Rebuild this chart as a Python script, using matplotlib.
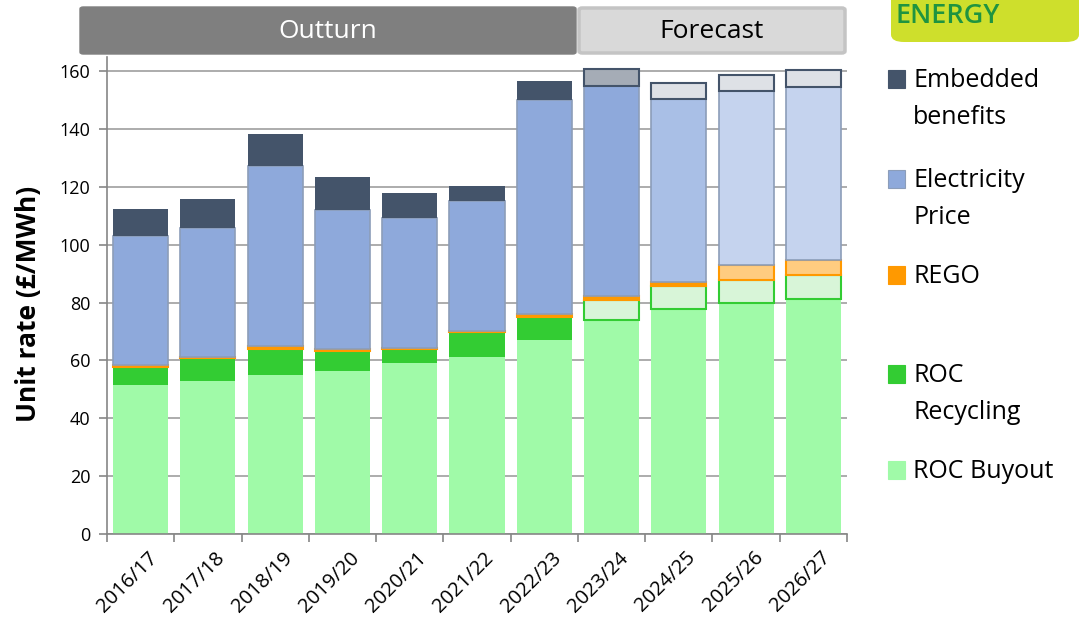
import matplotlib.pyplot as plt
import matplotlib.transforms as mtransforms
import numpy as np
from matplotlib.patches import FancyBboxPatch, Rectangle

years = ['2016/17', '2017/18', '2018/19', '2019/20', '2020/21', '2021/22',
         '2022/23', '2023/24', '2024/25', '2025/26', '2026/27']
roc_buyout = [51.6, 53.0, 55.0, 56.4, 59.2, 61.3, 67.0, 74.1, 77.8, 79.9, 81.3]
roc_recycling = [6.2, 7.9, 9.0, 6.9, 4.8, 8.7, 7.9, 6.7, 7.8, 8.1, 8.4]
rego = [0.7, 0.4, 0.9, 0.8, 0.3, 0.3, 1.3, 1.4, 1.4, 5.0, 5.0]
elec_price = [44.7, 44.4, 62.5, 47.8, 45.1, 44.7, 73.8, 72.7, 63.5, 60.1, 60.0]
embedded = [9.3, 10.0, 10.8, 11.4, 8.6, 5.5, 6.5, 6.0, 5.6, 5.5, 5.8]

legend_names = ['Embedded\nbenefits', 'Electricity\nPrice', 'REGO', 'ROC\nRecycling', 'ROC Buyout']

# per-bar styling: outturn years solid, forecast years lighter with outlines
buyout_fc = ['#A0FAA8'] * 11
rec_fc = ['#33CC33'] * 7 + ['#D8F5D8'] * 4
rec_ec = ['none'] * 7 + ['#33CC33'] * 4
rego_fc = ['#FF9900'] * 9 + ['#FFCC80'] * 2
elec_fc = ['#8EA9DB'] * 8 + ['#A9BFE6'] + ['#C5D3EE'] * 2
emb_fc = ['#44546A'] * 7 + ['#A5ACB6'] + ['#DEE1E6'] * 3
emb_ec = ['none'] * 7 + ['#44546A'] * 4

plt.rcParams['font.family'] = ['Open Sans', 'DejaVu Sans']

fig = plt.figure(figsize=(10.89, 6.18), dpi=100)
ax = fig.add_axes([107 / 1089, 0.136, 740 / 1089, 0.772])

x = np.arange(len(years))
w = 0.818
bottom = np.zeros(len(years))

ax.bar(x, roc_buyout, w, bottom=bottom, color=buyout_fc, edgecolor='none', zorder=2)
bottom += roc_buyout
ax.bar(x, roc_recycling, w, bottom=bottom, color=rec_fc, edgecolor=rec_ec, linewidth=1.5, zorder=2)
bottom += roc_recycling
ax.bar(x, rego, w, bottom=bottom, color=rego_fc, edgecolor='#FF9900', linewidth=1.5, zorder=2)
bottom += rego
ax.bar(x, elec_price, w, bottom=bottom, color=elec_fc, edgecolor='#8C9DB9', linewidth=1.2, zorder=2)
bottom += elec_price
ax.bar(x, embedded, w, bottom=bottom, color=emb_fc, edgecolor=emb_ec, linewidth=1.5, zorder=2)

ax.set_xlim(-0.5, 10.5)
ax.set_ylim(0, 165)
ax.set_yticks(np.arange(0, 161, 20))
ax.yaxis.grid(True, color='#A6A6A6', linewidth=1.3, zorder=0)
ax.set_axisbelow(True)

ax.set_xticks(x)
ax.set_xticklabels(years, rotation=45, ha='right', rotation_mode='anchor', fontsize=14.5)
ax.set_xticks(np.arange(-0.5, 10.6, 1), minor=True)
ax.tick_params(axis='x', which='major', length=0, pad=10)
ax.tick_params(axis='x', which='minor', length=6, color='#868686', width=1.2)
ax.tick_params(axis='y', length=6, color='#868686', width=1.2, labelsize=13, pad=6)
shift = mtransforms.ScaledTranslation(5 / 72, 0, fig.dpi_scale_trans)
for lbl in ax.get_xticklabels():
  lbl.set_transform(lbl.get_transform() + shift)

for s in ['top', 'right']:
  ax.spines[s].set_visible(False)
for s in ['left', 'bottom']:
  ax.spines[s].set_color('#868686')
  ax.spines[s].set_linewidth(1.2)

ax.set_ylabel('Unit rate (£/MWh)', fontsize=19, fontweight='bold')
ax.yaxis.set_label_coords(-0.088, 0.482)

# header boxes
fig.patches.append(FancyBboxPatch((80 / 1089, 1 - 54 / 618), 496 / 1089, 47 / 618,
                                  boxstyle='round,pad=0,rounding_size=0.003',
                                  transform=fig.transFigure, facecolor='#7F7F7F',
                                  edgecolor='#7F7F7F'))
fig.patches.append(FancyBboxPatch((579 / 1089, 1 - 53 / 618), 266 / 1089, 45 / 618,
                                  boxstyle='round,pad=0,rounding_size=0.003',
                                  transform=fig.transFigure, facecolor='#D9D9D9',
                                  edgecolor='#C4C4C4', linewidth=2.5))
fig.text(328 / 1089, 1 - 32 / 618, 'Outturn', color='white', fontsize=19,
         ha='center', va='center')
fig.text(712 / 1089, 1 - 32 / 618, 'Forecast', color='black', fontsize=19,
         ha='center', va='center')

# logo corner
fig.patches.append(FancyBboxPatch((891 / 1089, 1 - 42 / 618), 188 / 1089, 80 / 618,
                                  boxstyle='round,pad=0,rounding_size=0.012',
                                  transform=fig.transFigure, facecolor='#CEDF2C',
                                  edgecolor='none'))
fig.text(895 / 1089, 1 - 23 / 618, 'ENERGY', color='#1F9440', fontsize=19.5,
         fontweight='semibold', ha='left', va='baseline')

# legend drawn by hand
leg_colors = ['#44546A', '#8EA9DB', '#FF9900', '#33CC33', '#A0FAA8']
leg_edges = ['#44546A', '#8C9DB9', '#FF9900', '#33CC33', '#A0FAA8']
baselines = [87, 187, 283, 382, 478]
for name, fc, ec, b in zip(legend_names, leg_colors, leg_edges, baselines):
  fig.patches.append(Rectangle((888 / 1089, 1 - (b + 1) / 618), 17 / 1089, 18 / 618,
                               transform=fig.transFigure, facecolor=fc,
                               edgecolor=ec, linewidth=0.8))
  for k, line in enumerate(name.split('\n')):
    fig.text(913 / 1089, 1 - (b + 37 * k) / 618, line, fontsize=18,
             ha='left', va='baseline')

fig.savefig('out.png', dpi=100)
